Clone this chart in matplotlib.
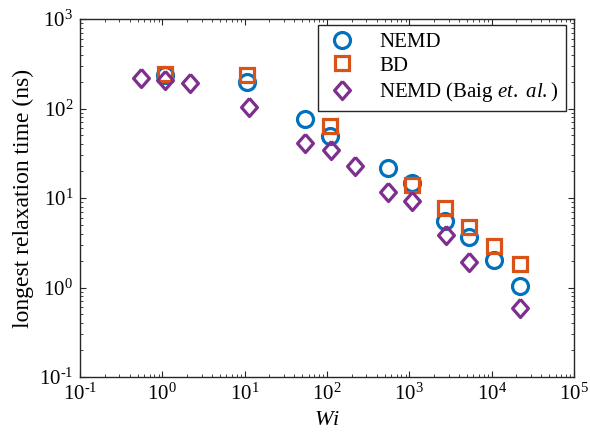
import matplotlib.pyplot as plt
from matplotlib.ticker import LogLocator, NullFormatter, FuncFormatter
import numpy as np

plt.rcParams['font.family'] = ['Liberation Serif', 'DejaVu Serif']
plt.rcParams['mathtext.fontset'] = 'custom'
plt.rcParams['mathtext.rm'] = 'Liberation Serif'
plt.rcParams['mathtext.it'] = 'Liberation Serif:italic'

# NEMD (this work)
wi_nemd = [1.09, 10.7, 53.5, 108, 545, 1077, 2690, 5370, 10800, 22300]
tau_nemd = [237, 196, 76.3, 49.3, 21.5, 14.6, 5.58, 3.70, 2.03, 1.04]

# Brownian dynamics
wi_bd = [1.09, 10.7, 108, 1090, 2690, 5370, 10700, 22000]
tau_bd = [245, 236, 63.7, 14.0, 7.67, 4.78, 2.91, 1.82]

# NEMD, Baig et al.
wi_baig = [0.553, 1.09, 2.15, 11.2, 54.5, 112, 220, 550, 1090, 2780, 5300, 22000]
tau_baig = [217, 208, 194, 105, 40.8, 34.4, 22.5, 11.7, 9.25, 3.86, 1.94, 0.586]

xticks = [1e-1, 1e0, 1e1, 1e2, 1e3, 1e4, 1e5]
yticks = [1e-1, 1e0, 1e1, 1e2, 1e3]

blue = '#0072BD'
orange = '#D95319'
purple = '#7E2F8E'
diamond = [(0, 1), (0.88, 0), (0, -1), (-0.88, 0), (0, 1)]


def pow10(v, pos):
    e = int(round(np.log10(v)))
    return '$\\mathregular{10^{%s}}$' % (str(e).replace('-', '\\text{-}'))


fig = plt.figure(figsize=(5.9, 4.41), dpi=100)
ax = fig.add_axes([0.1356, 0.1451, 0.8373, 0.8118])

ax.plot(wi_nemd, tau_nemd, 'o', ms=11.5, mew=2.3, mfc='none', mec=blue,
        label='NEMD')
ax.plot(wi_bd, tau_bd, 's', ms=10, mew=2.3, mfc='none', mec=orange,
        label='BD')
ax.plot(wi_baig, tau_baig, marker=diamond, ls='none', ms=13, mew=2.3,
        mfc='none', mec=purple, label='NEMD (Baig $\\it{et.\\ al.}$)')

ax.set_xscale('log')
ax.set_yscale('log')
ax.set_xticks(xticks)
ax.set_yticks(yticks)
ax.set_xlim(1e-1, 1e5)
ax.set_ylim(1e-1, 1e3)
ax.xaxis.set_minor_locator(LogLocator(base=10, subs=range(2, 10), numticks=20))
ax.yaxis.set_minor_locator(LogLocator(base=10, subs=range(2, 10), numticks=20))
ax.xaxis.set_major_formatter(FuncFormatter(pow10))
ax.yaxis.set_major_formatter(FuncFormatter(pow10))
ax.xaxis.set_minor_formatter(NullFormatter())
ax.yaxis.set_minor_formatter(NullFormatter())

ax.tick_params(which='both', direction='in', top=True, right=True,
               colors='#262626', labelcolor='black', labelsize=15)
ax.tick_params(which='major', length=4.5, width=0.8, pad=5)
ax.tick_params(which='minor', length=2.5, width=0.6)
for s in ax.spines.values():
    s.set_linewidth(1.0)
    s.set_color('#262626')

ax.set_xlabel('$\\it{Wi}$', fontsize=16, labelpad=4)
ax.set_ylabel('longest relaxation time (ns)', fontsize=17, labelpad=3)

leg = ax.legend(loc='upper right', bbox_to_anchor=(0.983, 0.983),
                fontsize=15, fancybox=False, framealpha=1,
                edgecolor='#262626', borderaxespad=0, handlelength=1.6,
                handletextpad=1.0, labelspacing=0.2, borderpad=0.35)
leg.get_frame().set_linewidth(1.0)

fig.savefig('out.png', dpi=100)
